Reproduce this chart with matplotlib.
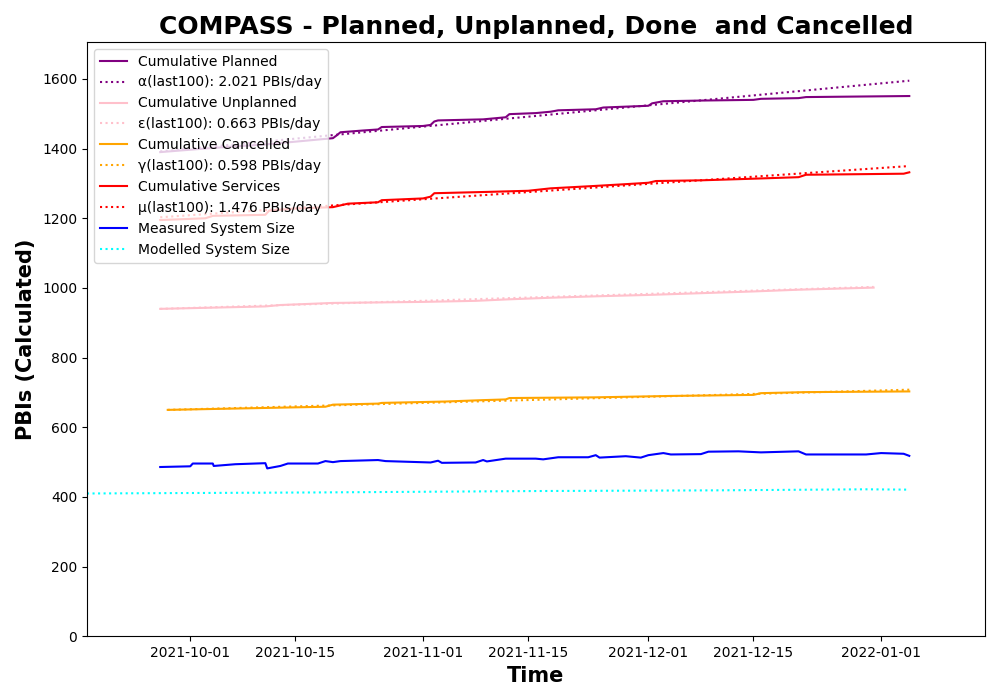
import matplotlib
matplotlib.use("Agg")
import matplotlib.pyplot as plt
import matplotlib.dates as mdates
import pandas as pd

# values
planned_dates = ["2021-09-27", "2021-10-04", "2021-10-11", "2021-10-20", "2021-10-20 12:00",
                 "2021-10-21", "2021-10-24", "2021-10-26", "2021-10-26 12:00", "2021-11-01",
                 "2021-11-02", "2021-11-02 12:00", "2021-11-03", "2021-11-09", "2021-11-12",
                 "2021-11-12 12:00", "2021-11-16", "2021-11-18", "2021-11-19", "2021-11-24",
                 "2021-11-25", "2021-12-01", "2021-12-01 12:00", "2021-12-03", "2021-12-08",
                 "2021-12-15", "2021-12-16", "2021-12-21", "2021-12-22", "2022-01-04 18:00"]
planned = [1390, 1402, 1412, 1430, 1438, 1447, 1452, 1455, 1462, 1465,
           1468, 1478, 1481, 1484, 1490, 1499, 1502, 1506, 1510, 1513,
           1518, 1523, 1530, 1536, 1538, 1540, 1543, 1545, 1548, 1551]

services_dates = ["2021-09-27", "2021-10-03", "2021-10-04", "2021-10-11", "2021-10-11 12:00",
                  "2021-10-15", "2021-10-20", "2021-10-22", "2021-10-26", "2021-10-26 12:00",
                  "2021-11-01", "2021-11-02", "2021-11-02 12:00", "2021-11-10", "2021-11-15",
                  "2021-11-18", "2021-11-24", "2021-11-28", "2021-12-01", "2021-12-02",
                  "2021-12-08", "2021-12-14", "2021-12-21", "2021-12-22", "2022-01-04",
                  "2022-01-04 18:00"]
services = [1195, 1200, 1207, 1210, 1222, 1228, 1232, 1242, 1246, 1252,
            1257, 1262, 1272, 1276, 1279, 1286, 1293, 1298, 1302, 1307,
            1309, 1313, 1318, 1325, 1328, 1332]

unplanned_dates = ["2021-09-27", "2021-10-11", "2021-10-13", "2021-10-20", "2021-11-01",
                   "2021-11-08", "2021-11-12", "2021-11-18", "2021-11-24", "2021-12-01",
                   "2021-12-08", "2021-12-15", "2021-12-21", "2021-12-31"]
unplanned = [940, 947, 951, 957, 960, 963, 967, 972, 976, 980, 985, 990, 995, 1001]

cancelled_dates = ["2021-09-28", "2021-10-19", "2021-10-20", "2021-10-26", "2021-10-26 12:00",
                   "2021-11-04", "2021-11-09", "2021-11-12", "2021-11-12 12:00", "2021-11-24",
                   "2021-12-04", "2021-12-15", "2021-12-16", "2021-12-22", "2022-01-04 18:00"]
cancelled = [650, 659, 665, 668, 670, 674, 678, 680, 684, 686, 690, 693, 698, 701, 703]

measured_dates = ["2021-09-27", "2021-10-01", "2021-10-01 08:00", "2021-10-04", "2021-10-04 03:00",
                  "2021-10-07", "2021-10-11", "2021-10-11 06:00", "2021-10-13", "2021-10-14",
                  "2021-10-18", "2021-10-19", "2021-10-20", "2021-10-21", "2021-10-26",
                  "2021-10-27", "2021-11-02", "2021-11-03", "2021-11-03 12:00", "2021-11-08",
                  "2021-11-09", "2021-11-09 12:00", "2021-11-12", "2021-11-16", "2021-11-17",
                  "2021-11-19", "2021-11-23", "2021-11-24", "2021-11-24 12:00", "2021-11-28",
                  "2021-11-30", "2021-12-01", "2021-12-03", "2021-12-04", "2021-12-08",
                  "2021-12-09", "2021-12-13", "2021-12-16", "2021-12-21", "2021-12-22",
                  "2021-12-30", "2022-01-01", "2022-01-04", "2022-01-04 18:00"]
measured = [486, 488, 496, 496, 489, 494, 497, 482, 489, 496,
            496, 503, 500, 503, 506, 503, 499, 504, 498, 499,
            506, 502, 510, 510, 508, 514, 514, 520, 513, 517,
            513, 520, 526, 522, 523, 530, 531, 528, 531, 522,
            522, 526, 524, 518]

modelled_dates = ["2021-09-17 06:00", "2021-10-18", "2021-11-16", "2021-12-10", "2021-12-30",
                  "2022-01-04 18:00"]
modelled = [410, 413, 417, 419, 422, 421]

# fitted trend lines (last 100 days), end points
alpha_dates, alpha_vals = ["2021-09-27", "2022-01-04 18:00"], [1392, 1595]
eps_dates, eps_vals = ["2021-09-27", "2021-12-31"], [940, 1003]
gamma_dates, gamma_vals = ["2021-09-28", "2022-01-04 18:00"], [650, 708]
mu_dates, mu_vals = ["2021-09-27", "2022-01-04 18:00"], [1203, 1350]


def d(strs):
    return pd.to_datetime(strs, format="mixed")


fig, ax = plt.subplots(figsize=(10, 7), dpi=100)
fig.subplots_adjust(left=0.087, right=0.985, top=0.94, bottom=0.091)

ax.plot(d(planned_dates), planned, color="purple", label="Cumulative Planned")
ax.plot(d(alpha_dates), alpha_vals, color="purple", ls=":", label="α(last100): 2.021 PBIs/day")
ax.plot(d(unplanned_dates), unplanned, color="pink", label="Cumulative Unplanned")
ax.plot(d(eps_dates), eps_vals, color="pink", ls=":", label="ε(last100): 0.663 PBIs/day")
ax.plot(d(cancelled_dates), cancelled, color="orange", label="Cumulative Cancelled")
ax.plot(d(gamma_dates), gamma_vals, color="orange", ls=":", label="γ(last100): 0.598 PBIs/day")
ax.plot(d(services_dates), services, color="red", label="Cumulative Services")
ax.plot(d(mu_dates), mu_vals, color="red", ls=":", label="μ(last100): 1.476 PBIs/day")
ax.plot(d(measured_dates), measured, color="blue", label="Measured System Size")
ax.plot(d(modelled_dates), modelled, color="cyan", ls=":", label="Modelled System Size")

ax.set_xlim(d(["2021-09-17 06:00"])[0], d(["2022-01-14 20:00"])[0])
ax.set_ylim(0, 1.1 * max(planned))
ax.xaxis.set_major_locator(mdates.DayLocator(bymonthday=[1, 15]))
ax.xaxis.set_major_formatter(mdates.DateFormatter("%Y-%m-%d"))

ax.set_title("COMPASS - Planned, Unplanned, Done  and Cancelled", fontsize=18, fontweight="bold")
ax.set_xlabel("Time", fontsize=15, fontweight="bold")
ax.set_ylabel("PBIs (Calculated)", fontsize=15, fontweight="bold")
ax.legend(loc="upper left")

fig.savefig("out.png")
